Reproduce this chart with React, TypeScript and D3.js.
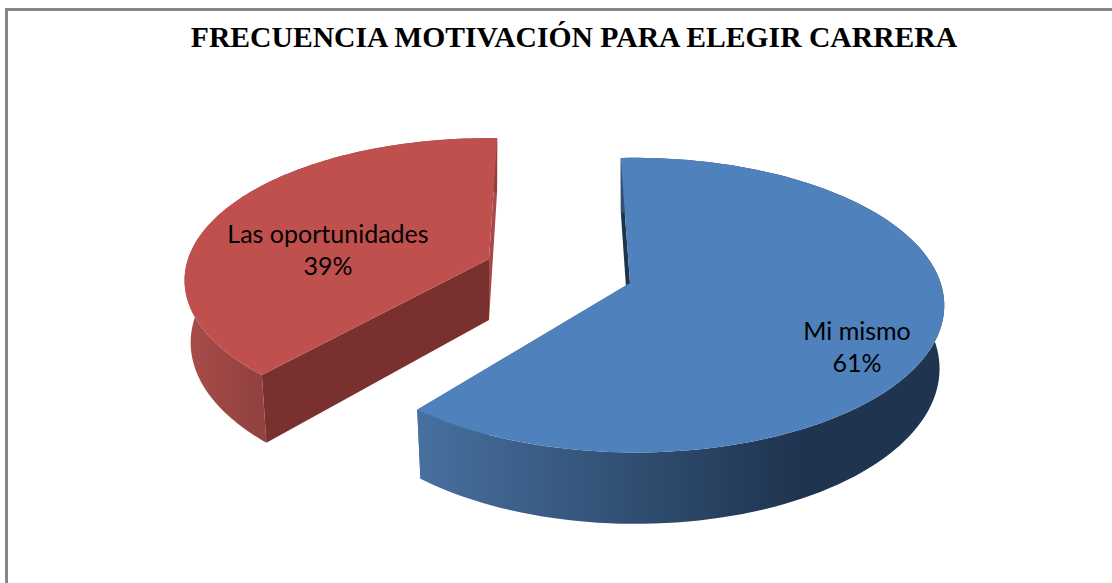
import React from "react";
import * as d3 from "d3";

const title = "FRECUENCIA MOTIVACIÓN PARA ELEGIR CARRERA";
const categories = ["Mi mismo", "Las oportunidades"];
const values = [61.2, 38.8];
const topColors = ["#4f81bd", "#c0504d"];
const startFaceColors = ["#1e334d", "#79302f"];
const endFaceColors = ["#456f9f", "#a5494a"];
const wallStops = [
  ["#47709f", "#1f344f"],
  ["#a84d4a", "#8f403e"],
];

// exploded slices, each one has its own apex and projection of the disc
const slices = [
  { cx: 630, cy: 283, rx: 306, ry: 144, persp: 0.15, skew: 0.015, turn: 0, drop: 62, dropY: 8, shrink: 0.985, wall: [418, 800], label: [857, 331] },
  { cx: 489, cy: 259, rx: 301, ry: 139, persp: 0.15, skew: 0, turn: 3.8, drop: 61, dropY: 8, shrink: 0.98, wall: [185, 272], label: [328, 234] },
];

const pct = d3.format(".0%");
const rad = Math.PI / 180;

export default function App() {
  const pie = d3
    .pie<number>()
    .sort(null)
    .startAngle(-2 * rad)
    .endAngle(358 * rad);
  const arcs = pie(values);
  const total = d3.sum(values);
  const line = d3.line();

  return (
    <svg
      width={1112}
      height={583}
      style={{ position: "absolute", left: 0, top: 0, background: "#fff" }}
    >
      <defs>
        {slices.map((s, i) => (
          <linearGradient
            key={i}
            id={`wall${i}`}
            gradientUnits="userSpaceOnUse"
            x1={s.wall[0]}
            x2={s.wall[1]}
            y1={0}
            y2={0}
          >
            <stop offset="0" stopColor={wallStops[i][0]} />
            <stop offset="1" stopColor={wallStops[i][1]} />
          </linearGradient>
        ))}
      </defs>
      <path d="M6.5,583V9.5H1112" fill="none" stroke="#868686" strokeWidth={3} />
      <text
        x={574}
        y={46.5}
        textAnchor="middle"
        fontFamily="Liberation Serif"
        fontWeight="bold"
        fontSize={29.65}
        fill="#000"
      >
        {title}
      </text>
      {arcs.map((a, i) => {
        const s = slices[i];
        const a0 = a.startAngle + s.turn * rad;
        const a1 = a.endAngle + s.turn * rad;
        const project = (t: number, low: boolean): [number, number] => {
          const u = Math.sin(t);
          const v = -Math.cos(t);
          const w = 1 - s.persp * v - s.skew * u;
          if (!low) return [s.cx + (s.rx * u) / w, s.cy + (s.ry * v) / w];
          return [
            s.cx + (s.shrink * s.rx * u) / w,
            s.cy + s.drop + ((s.ry + s.dropY) * v) / w,
          ];
        };
        const ts = d3.range(0, 121).map((k) => a0 + ((a1 - a0) * k) / 120);
        const upper = ts.map((t) => project(t, false));
        const lower = ts.map((t) => project(t, true));
        const apex: [number, number] = [s.cx, s.cy];
        const apexLow: [number, number] = [s.cx, s.cy + s.drop];
        const wall = line([...upper, ...lower.slice().reverse()]) + "Z";
        const startFace = line([upper[0], lower[0], apexLow, apex]) + "Z";
        const endFace = line([upper[120], lower[120], apexLow, apex]) + "Z";
        const top = line([apex, ...upper]) + "Z";
        return (
          <g key={categories[i]}>
            <path d={endFace} fill={endFaceColors[i]} />
            <path d={startFace} fill={startFaceColors[i]} />
            <path d={wall} fill={`url(#wall${i})`} />
            <path d={top} fill={topColors[i]} />
          </g>
        );
      })}
      {arcs.map((a, i) => (
        <text
          key={categories[i]}
          x={slices[i].label[0]}
          y={slices[i].label[1]}
          textAnchor="middle"
          fontFamily="Lato"
          fontSize={25}
          fill="#000"
        >
          <tspan x={slices[i].label[0]} dy="0.35em">
            {categories[i]}
          </tspan>
          <tspan x={slices[i].label[0]} dy={32}>
            {pct(values[i] / total)}
          </tspan>
        </text>
      ))}
    </svg>
  );
}
